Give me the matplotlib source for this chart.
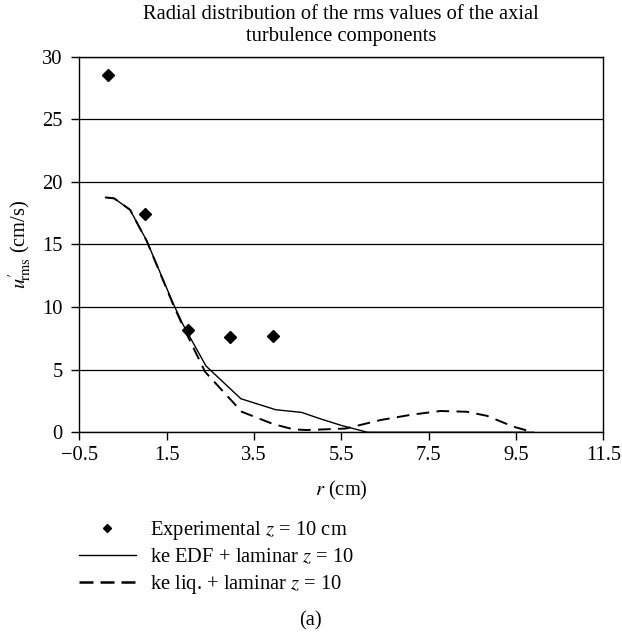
import matplotlib
matplotlib.use("Agg")
import matplotlib.pyplot as plt
from matplotlib.lines import Line2D

plt.rcParams['font.family'] = ['Liberation Serif', 'DejaVu Serif']
plt.rcParams['mathtext.fontset'] = 'stix'

# Data
r_exp = [0.15, 1.0, 2.0, 2.95, 3.93]
u_exp = [28.5, 17.4, 8.2, 7.6, 7.7]

r_edf = [0.1, 0.3, 0.66, 1.04, 1.65, 1.87, 2.4, 3.2, 4.0, 4.59, 5.0, 5.5, 6.1, 9.9]
u_edf = [18.75, 18.67, 17.77, 15.32, 10.28, 8.63, 5.3, 2.68, 1.8, 1.59, 1.1, 0.55, 0.0, 0.0]

r_liq = [0.1, 0.3, 0.66, 1.04, 1.65, 1.87, 2.38, 3.22, 3.94, 4.4, 4.7, 5.6, 6.4, 7.1, 7.77, 8.37, 8.83, 9.44, 9.9]
u_liq = [18.75, 18.67, 17.77, 15.3, 10.2, 8.5, 4.83, 1.64, 0.66, 0.24, 0.18, 0.3, 0.98, 1.4, 1.70, 1.64, 1.32, 0.45, 0.0]

x_ticks = [-0.5, 1.5, 3.5, 5.5, 7.5, 9.5, 11.5]
x_tick_labels = ['\u22120.5', '1.5', '3.5', '5.5', '7.5', '9.5', '11.5']
y_ticks = [0, 5, 10, 15, 20, 25, 30]

labels = ['Experimental $z$ = 10 cm', 'ke EDF + laminar $z$ = 10', 'ke liq. + laminar $z$ = 10']

W, H = 622, 636
fig = plt.figure(figsize=(W / 100, H / 100), dpi=100)
ax = fig.add_axes([79.3 / W, 1 - 432.3 / H, (603.3 - 79.3) / W, (432.3 - 56.5) / H])

fs = 14.8
ax.set_xlim(-0.5, 11.5)
ax.set_ylim(0, 30)
ax.set_xticks(x_ticks)
ax.set_xticklabels(x_tick_labels)
ax.set_yticks(y_ticks)
ax.tick_params(axis='both', direction='out', length=6, width=1.0, labelsize=fs, color='black')
ax.tick_params(axis='x', pad=4)
ax.tick_params(axis='y', pad=6)
for s in ax.spines.values():
    s.set_linewidth(1.0)
    s.set_color('black')
ax.yaxis.grid(True, color='black', linewidth=0.9)
ax.set_axisbelow(True)

ax.plot(r_edf, u_edf, color='black', linewidth=1.0, solid_joinstyle='round')
ax.plot(r_liq, u_liq, color='black', linewidth=1.4, linestyle=(0, (6.5, 3.8)))
ax.plot(r_exp, u_exp, linestyle='none', marker='D', markersize=6, color='black')

# Title and labels
fig.text(341.3 / W, 1 - 25.5 / H,
         'Radial distribution of the rms values of the axial\nturbulence components',
         ha='center', va='center', fontsize=fs, linespacing=1.25)
fig.text(20 / W, 1 - 244 / H, r"$u^{\prime}_{\!\mathrm{rms}}$ (cm/s)", rotation=90,
         ha='center', va='center', fontsize=fs)
fig.text(341.3 / W, 1 - 490 / H, '$r$ (cm)', ha='center', va='center', fontsize=fs)
fig.text(310 / W, 1 - 621 / H, '(a)', ha='center', va='center', fontsize=fs)

handles = [
    Line2D([], [], linestyle='none', marker='D', markersize=4.5, color='black'),
    Line2D([], [], color='black', linewidth=1.0),
    Line2D([], [], color='black', linewidth=1.8, linestyle=(0, (5.6, 2.8))),
]
fig.legend(handles, labels, loc='upper left', bbox_to_anchor=(79 / W, 1 - 519 / H),
           frameon=False, fontsize=fs, borderpad=0, borderaxespad=0,
           handlelength=2.75, handletextpad=0.68, labelspacing=0.28, numpoints=1)

fig.savefig('out.png', dpi=100)
